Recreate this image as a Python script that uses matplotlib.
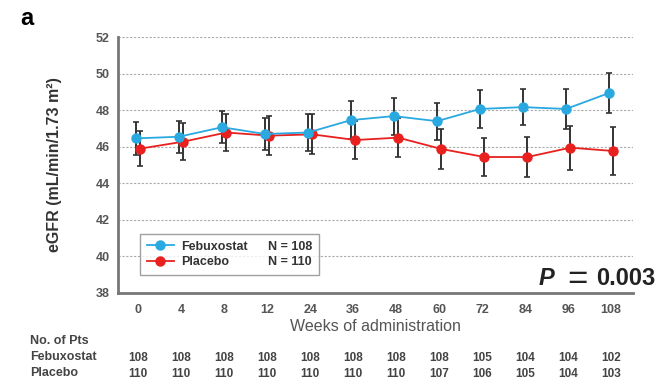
import numpy as np
import matplotlib.pyplot as plt
from matplotlib.lines import Line2D
from matplotlib.transforms import blended_transform_factory

plt.rcParams['font.family'] = ['Liberation Sans', 'DejaVu Sans']

# Data
weeks = ['0', '4', '8', '12', '24', '36', '48', '60', '72', '84', '96', '108']
febux_mean = [46.46, 46.55, 47.07, 46.70, 46.78, 47.46, 47.68, 47.40, 48.07, 48.17, 48.07, 48.94]
febux_err = [0.89, 0.87, 0.89, 0.90, 1.00, 1.03, 1.01, 1.02, 1.02, 1.00, 1.09, 1.10]
placebo_mean = [45.90, 46.28, 46.78, 46.61, 46.68, 46.37, 46.50, 45.88, 45.44, 45.44, 45.95, 45.77]
placebo_err = [0.95, 1.00, 1.00, 1.07, 1.10, 1.03, 1.05, 1.07, 1.05, 1.12, 1.20, 1.32]
febux_n = [108, 108, 108, 108, 108, 108, 108, 108, 105, 104, 104, 102]
placebo_n = [110, 110, 110, 110, 110, 110, 110, 107, 106, 105, 104, 103]

blue = '#2aa9e0'
red = '#e8211f'
grey_txt = '#555555'

fig = plt.figure(figsize=(6.59, 3.79), dpi=100)
ax = fig.add_axes([0.179, 0.227, 0.781, 0.675])

x = np.arange(len(weeks))
off = 0.05

ax.errorbar(x - off, febux_mean, yerr=febux_err, fmt='none', ecolor='#333333',
            elinewidth=1.4, capsize=2, capthick=1.2, zorder=2)
ax.errorbar(x + off, placebo_mean, yerr=placebo_err, fmt='none', ecolor='#333333',
            elinewidth=1.4, capsize=2, capthick=1.2, zorder=2)
h1, = ax.plot(x - off, febux_mean, '-o', color=blue, lw=1.3, ms=6.5, zorder=4)
h2, = ax.plot(x + off, placebo_mean, '-o', color=red, lw=1.3, ms=6.5, zorder=3)

ax.set_xlim(-0.47, 11.5)
ax.set_ylim(38, 52)
ax.set_yticks(range(38, 53, 2))
ax.set_xticks(x)
ax.set_xticklabels(weeks)
for yv in range(40, 53, 2):
    ax.axhline(yv, color='#aaaaaa', lw=0.8, ls=(0, (2, 1.5)), zorder=1)

for s in ['top', 'right']:
    ax.spines[s].set_visible(False)
for s in ['left', 'bottom']:
    ax.spines[s].set_color('#777777')
    ax.spines[s].set_linewidth(2)
ax.tick_params(length=0, labelsize=9, labelcolor=grey_txt, pad=6)
for lab in ax.get_xticklabels() + ax.get_yticklabels():
    lab.set_fontweight('bold')
ax.tick_params(axis='x', pad=8)

ax.set_xlabel('Weeks of administration', fontsize=11.5, color=grey_txt, labelpad=2)
ax.set_ylabel('eGFR (mL/min/1.73 m²)', fontsize=11.5, fontweight='bold',
              color='#333333', labelpad=24)

blank = Line2D([], [], alpha=0)
leg = ax.legend([h1, h2, blank, blank], ['Febuxostat', 'Placebo', 'N = 108', 'N = 110'],
                ncol=2, loc='lower left', bbox_to_anchor=(0.03, 0.045), fontsize=9,
                frameon=True, fancybox=False, edgecolor='#888888',
                handlelength=2.2, handletextpad=0.6, columnspacing=-1.2,
                borderpad=0.55, labelspacing=0.3)
leg.get_frame().set_linewidth(1.0)
for t in leg.get_texts():
    t.set_fontweight('bold')
    t.set_color('#333333')

ybase = 1 - 285 / 379
fig.text(655 / 659, ybase, '0.003', fontsize=17, fontweight='bold',
         ha='right', va='baseline', color='#222222')
fig.text(577 / 659, 1 - 289 / 379, '=', fontsize=25, fontweight='normal',
         ha='center', va='baseline', color='#222222')
fig.text(539 / 659, ybase, 'P', fontsize=17, fontweight='bold',
         fontstyle='italic', ha='left', va='baseline', color='#222222')

fig.text(0.03, 0.95, 'a', fontsize=17, fontweight='bold', va='center')

# numbers at risk
tr = blended_transform_factory(ax.transData, fig.transFigure)
for yy, lab in [(341, 'No. of Pts'), (357, 'Febuxostat'), (373, 'Placebo')]:
    fig.text(0.045, 1 - yy / 379, lab, fontsize=9, fontweight='bold',
             color='#444444', va='center')
for i in range(len(weeks)):
    ax.text(x[i], 1 - 358 / 379, str(febux_n[i]), transform=tr, ha='center',
            va='center', fontsize=8.5, fontweight='bold', color='#444444')
    ax.text(x[i], 1 - 374 / 379, str(placebo_n[i]), transform=tr, ha='center',
            va='center', fontsize=8.5, fontweight='bold', color='#444444')

fig.savefig('out.png', dpi=100)
